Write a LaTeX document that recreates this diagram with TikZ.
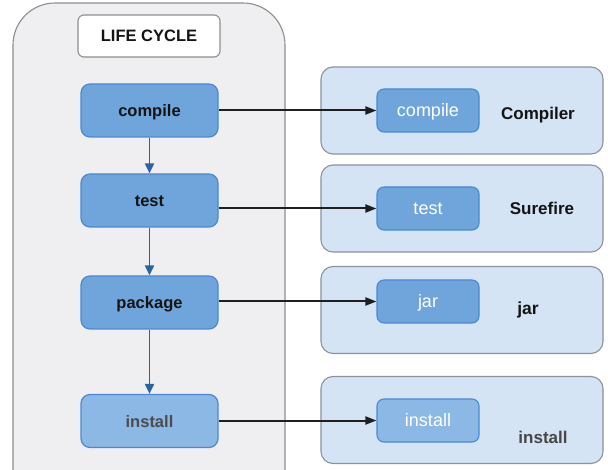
\documentclass[tikz,border=0pt]{standalone}
\usepackage{fontspec}
\setmainfont{Liberation Sans}
\usetikzlibrary{arrows.meta}
\definecolor{contfill}{HTML}{EFEFF1}
\definecolor{contdraw}{HTML}{8E8E8E}
\definecolor{boxfill}{HTML}{6FA5DB}
\definecolor{boxdraw}{HTML}{4A88D2}
\definecolor{instfill}{HTML}{8CB8E6}
\definecolor{panfill}{HTML}{D4E4F4}
\definecolor{pandraw}{HTML}{8C939C}
\definecolor{downarr}{HTML}{2B62A0}
\definecolor{darktxt}{HTML}{141414}
\begin{document}
\begin{tikzpicture}[x=1pt,y=-1pt,
  phasebox/.style={draw=boxdraw,fill=boxfill,line width=1.2pt,rounded corners=9pt,
    minimum width=137pt,minimum height=53pt,inner sep=0pt,
    font=\fontsize{16.5}{18}\selectfont\bfseries,text=darktxt,
    text height=12pt,text depth=0pt},
  panelbox/.style={draw=pandraw,fill=panfill,line width=1.1pt,rounded corners=12pt,
    minimum width=282pt,minimum height=87pt,inner sep=0pt},
  goalbox/.style={draw=boxdraw,fill=boxfill,line width=1.1pt,rounded corners=7pt,
    minimum width=102pt,minimum height=43pt,inner sep=0pt,
    font=\fontsize{18}{20}\selectfont,text=white,text height=12pt,text depth=0pt},
  plugtxt/.style={font=\fontsize{17}{19}\selectfont\bfseries,text=darktxt,inner sep=0pt},
  downarrow/.style={draw=downarr,line width=1.9pt,-{Triangle[length=10pt,width=9pt]}},
  sidearrow/.style={draw=black!88,line width=2pt,-{Triangle[length=11pt,width=8pt]}}
]
\useasboundingbox (0,0) rectangle (608,470);
\fill[white] (0,0) rectangle (608,470);
% left container
\draw[draw=contdraw,fill=contfill,line width=1.1pt]
  (13,480) -- (13,45) arc[start angle=180,end angle=270,radius=42] -- (243,3)
  arc[start angle=270,end angle=360,radius=42] -- (285,480);
\node[draw=contdraw,fill=white,line width=1.1pt,rounded corners=6pt,minimum width=142pt,
  minimum height=42pt,inner sep=0pt,font=\fontsize{16.5}{18}\selectfont\bfseries,text=darktxt]
  (title) at (149,36) {LIFE CYCLE};
% phases
\node[phasebox] (compile) at (149.5,110.5) {compile};
\node[phasebox] (test) at (149.5,200.5) {test};
\node[phasebox] (package) at (149.5,302.5) {package};
\node[phasebox,fill=instfill,text=black!70] (install) at (149.5,421) {install};
\draw[downarrow] (compile) -- (test);
\draw[downarrow] (test) -- (package);
\draw[downarrow] (package) -- (install);
% panels
\node[panelbox] (p1) at (462,110.5) {};
\node[panelbox] (p2) at (462,208.5) {};
\node[panelbox] (p3) at (462,310) {};
\node[panelbox] (p4) at (462,420) {};
\node[goalbox] (g1) at (428,110.5) {compile};
\node[goalbox] (g2) at (428,208.5) {test};
\node[goalbox] (g3) at (428,301.5) {jar};
\node[goalbox,fill=instfill] (g4) at (428,420.5) {install};
\node[plugtxt] (l1) at (538,115) {Compiler};
\node[plugtxt] (l2) at (542,208) {Surefire};
\node[plugtxt,font=\fontsize{17.5}{19}\selectfont\bfseries] (l3) at (528,310) {jar};
\node[plugtxt,text=black!72] (l4) at (543,437) {install};
% side arrows
\draw[sidearrow] (compile.east |- g1.west) -- (g1.west);
\draw[sidearrow] (test.east |- g2.west) -- (g2.west);
\draw[sidearrow] (package.east |- g3.west) -- (g3.west);
\draw[sidearrow] (install.east |- g4.west) -- (g4.west);
\end{tikzpicture}
\end{document}
